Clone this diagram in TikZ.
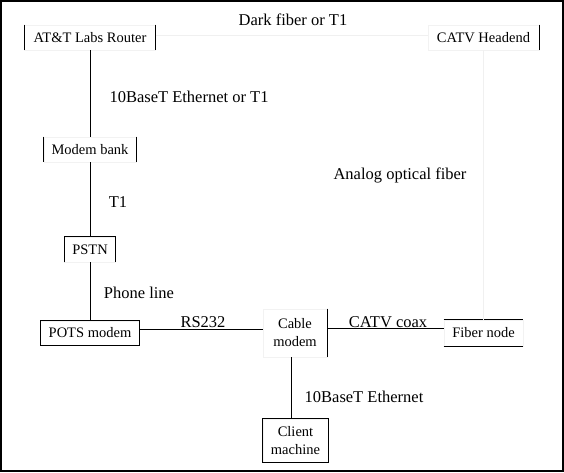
\documentclass[tikz,border=0pt]{standalone}
\usepackage{fontspec}
\setmainfont{Liberation Serif}
\begin{document}
\begin{tikzpicture}[x=1pt,y=-1pt,
  nbox/.style={draw=gray!10, line width=0.8pt, inner sep=0pt, align=center,
    font=\fontsize{14.5}{18}\selectfont},
  lbl/.style={inner sep=0pt, font=\fontsize{16.5}{20}\selectfont},
  conn/.style={draw=black, line width=0.9pt},
  faint/.style={draw=gray!12, line width=0.9pt},
  side/.style={draw=black, line width=0.9pt}]
\useasboundingbox (0,0) rectangle (564,472);
\fill[white] (0,0) rectangle (564,472);
\draw[line width=2pt] (1,1) rectangle (563,471);

% nodes
\node[nbox, minimum width=131, minimum height=25] (router) at (90,37.5) {AT\&T Labs Router};
\node[nbox, minimum width=111, minimum height=25] (headend) at (483.5,37.5) {CATV Headend};
\node[nbox, minimum width=92, minimum height=25] (bank) at (90,149.5) {Modem bank};
\node[nbox, minimum width=51, minimum height=25] (pstn) at (90,249.5) {PSTN};
\node[nbox, minimum width=99, minimum height=24] (pots) at (90,333) {POTS modem};
\node[nbox, minimum width=64, minimum height=48] (cable) at (295,333) {Cable\\modem};
\node[nbox, minimum width=79, minimum height=26] (fiber) at (483.5,333) {Fiber node};
\node[nbox, minimum width=65, minimum height=43] (client) at (295.5,440.5) {Client\\machine};

% visible box sides
\draw[side] (router.north west) -- (router.south west);
\draw[side] (router.north east) -- (router.south east);
\draw[side] (headend.north east) -- (headend.south east);
\draw[side] (bank.north west) -- (bank.south west);
\draw[side] (bank.north east) -- (bank.south east);
\draw[side] (pstn.south west) -- (pstn.north west) -- (pstn.north east) -- (pstn.south east);
\draw[side] (pots.north west) rectangle (pots.south east);
\draw[side] (cable.north east) -- (cable.south east);
\draw[side] (fiber.north west) -- (fiber.north east);
\draw[side] (fiber.south west) -- (fiber.south east);
\draw[side] (client.north west) rectangle (client.south east);

% connectors
\draw[faint] ([yshift=2]router.east) -- ([yshift=2]headend.west);
\draw[faint] (headend.south) -- (fiber.north);
\draw[conn] (router.south) -- (bank.north);
\draw[conn] (bank.south) -- (pstn.north);
\draw[conn] (pstn.south) -- (pots.north);
\draw[conn] ([yshift=4]pots.east) -- ([yshift=4]cable.west);
\draw[conn] ([yshift=5]cable.east) -- ([yshift=5]fiber.west);
\draw[conn] ([xshift=-4]cable.south) -- ([xshift=-4.5]client.north);

% labels
\node[lbl] (l1) at (293,20) {Dark fiber or T1};
\node[lbl] (l2) at (189,97) {10BaseT Ethernet or T1};
\node[lbl] (l3) at (400,175) {Analog optical fiber};
\node[lbl] (l4) at (118,202) {T1};
\node[lbl] (l5) at (139,293) {Phone line};
\node[lbl] (l6) at (203,322) {RS232};
\node[lbl] (l7) at (388,322) {CATV coax};
\node[lbl] (l8) at (364,397) {10BaseT Ethernet};
\end{tikzpicture}
\end{document}
